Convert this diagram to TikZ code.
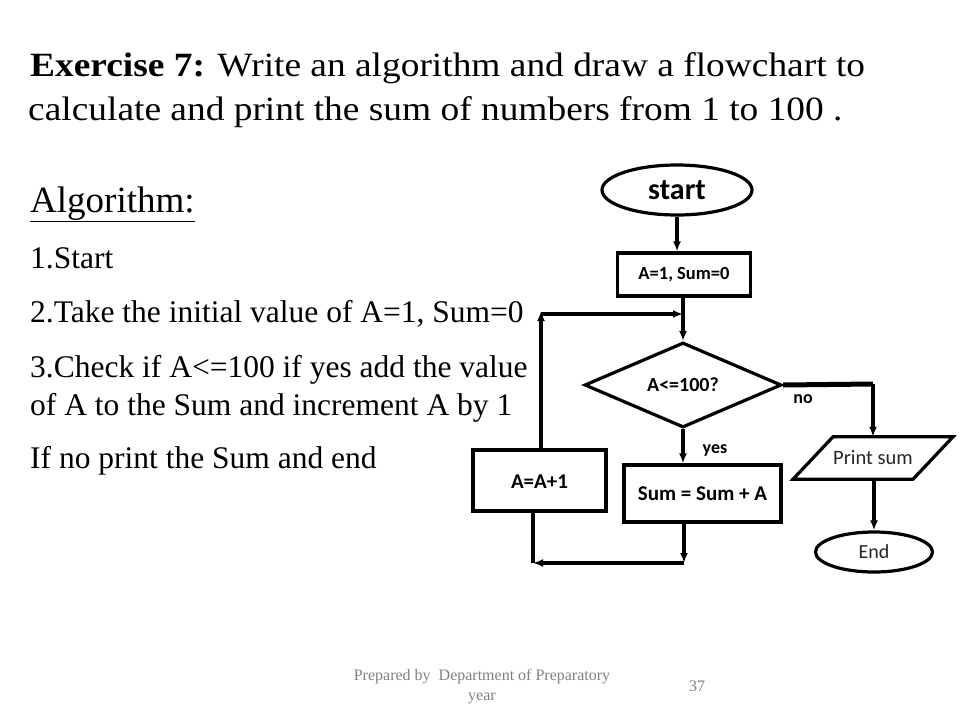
\documentclass[tikz,border=0pt]{standalone}
\usepackage{fontspec}
\setmainfont{Liberation Serif}
\newfontfamily\calfnt{Carlito}
\usetikzlibrary{shapes.geometric,arrows.meta}
\begin{document}
\begin{tikzpicture}[x=1pt,y=-1pt,
  conn/.style={line width=3.2pt,-{Latex[length=10pt,width=8pt]}},
  plain/.style={line width=3.2pt},
  boxst/.style={draw,line width=3.2pt,rectangle,inner sep=0pt,font=\calfnt\bfseries\fontsize{21}{24}\selectfont},
  ovalst/.style={draw,line width=3.2pt,ellipse,inner sep=0pt},
  lbl/.style={font=\calfnt\bfseries\fontsize{20}{24}\selectfont},
  txt/.style={anchor=base west,inner sep=0pt,font=\fontsize{31.5}{36}\selectfont},
  ttl/.style={anchor=base west,inner sep=0pt,font=\fontsize{34}{40}\selectfont},
  foot/.style={text=gray,font=\fontsize{16}{19}\selectfont,inner sep=0pt}]
\useasboundingbox (0,0) rectangle (960,720);
% title
\node[ttl] (t1) at (30,76) {\scalebox{1.1}[1]{\textbf{Exercise 7:} Write an algorithm and draw a flowchart to}};
\node[ttl] (t2) at (28,120) {\scalebox{1.1}[1]{calculate and print the sum of numbers from 1 to 100 .}};
% algorithm
\node[anchor=base west,inner sep=0pt,font=\fontsize{37}{44}\selectfont] (alg) at (30,212) {\underline{Algorithm:}};
\node[txt] (s1) at (30,268) {1.Start};
\node[txt] (s2) at (30,322) {2.Take the initial value of A=1, Sum=0};
\node[txt] (s3) at (30,377) {3.Check if A<=100 if yes add the value};
\node[txt] (s3b) at (30,415) {of A to the Sum and increment A by 1};
\node[txt] (s4) at (30,468) {If no print the Sum and end};
% flowchart
\node[ovalst,minimum width=150pt,minimum height=50pt,font=\calfnt\bfseries\fontsize{30}{32}\selectfont] (start) at (677,190) {start};
\node[boxst,minimum width=133pt,minimum height=43pt,font=\calfnt\bfseries\fontsize{18.5}{21}\selectfont] (init) at (684,274.5) {A=1, Sum=0};
\node[draw,line width=3.2pt,diamond,aspect=2.3,minimum width=197pt,minimum height=85pt,inner sep=0pt,lbl] (dec) at (683,385) {A<=100?};
\node[boxst,minimum width=157pt,minimum height=57pt] (sum) at (702.5,493.5) {Sum = Sum + A};
\node[boxst,minimum width=133pt,minimum height=61pt] (inc) at (539.5,480.5) {};
\node[font=\calfnt\bfseries\fontsize{21}{24}\selectfont] (inctxt) at (539.5,482) {A=A+1};
\node[minimum width=120pt,minimum height=42pt,inner sep=0pt,font=\calfnt\fontsize{20.5}{24}\selectfont,text=black!85] (print) at (873,458) {Print sum};
\draw[line width=3.2pt,line join=miter] ([xshift=-40pt]print.north) -- ([xshift=80pt]print.north) -- ([xshift=40pt]print.south) -- ([xshift=-80pt]print.south) -- cycle;
\node[ovalst,minimum width=117pt,minimum height=40pt,font=\calfnt\fontsize{20}{24}\selectfont,text=black!85] (end) at (874,552) {End};
\node[font=\calfnt\bfseries\fontsize{18}{20}\selectfont] (no) at (803,399) {no};
\node[font=\calfnt\bfseries\fontsize{18}{20}\selectfont] (yes) at (715,450) {yes};
% coordinates
\coordinate (nA) at (873,384);
\coordinate (lTop) at (541,314);
\coordinate (lMid) at (683,314);
\coordinate (bR) at (684,563);
\coordinate (bL) at (533,563);
% connectors
\draw[conn] (start.south) -- (start.south |- init.north);
\draw[conn] (init.south -| dec.north) -- (dec.north);
\draw[line width=5pt] (dec.east) -- (nA);
\draw[conn] (nA) -- (nA |- print.north);
\draw[conn] (print.south -| end.north) -- (end.north);
\draw[conn] (dec.south) -- (dec.south |- sum.north);
\draw[conn] (inc.north -| lTop) -- ([yshift=3pt]lTop);
\draw[conn] (lTop) -- (lMid);
\draw[conn] ([yshift=4pt]sum.south -| bR) -- (bR);
\draw[conn] (bR) -- (bL);
\draw[plain] (inc.south -| bL) -- (bL);
% footer
\node[foot] (f1) at (482,677) {Prepared by \ Department of Preparatory};
\node[foot] (f2) at (482,698) {year};
\node[foot] (pg) at (697,686) {37};
\end{tikzpicture}
\end{document}
